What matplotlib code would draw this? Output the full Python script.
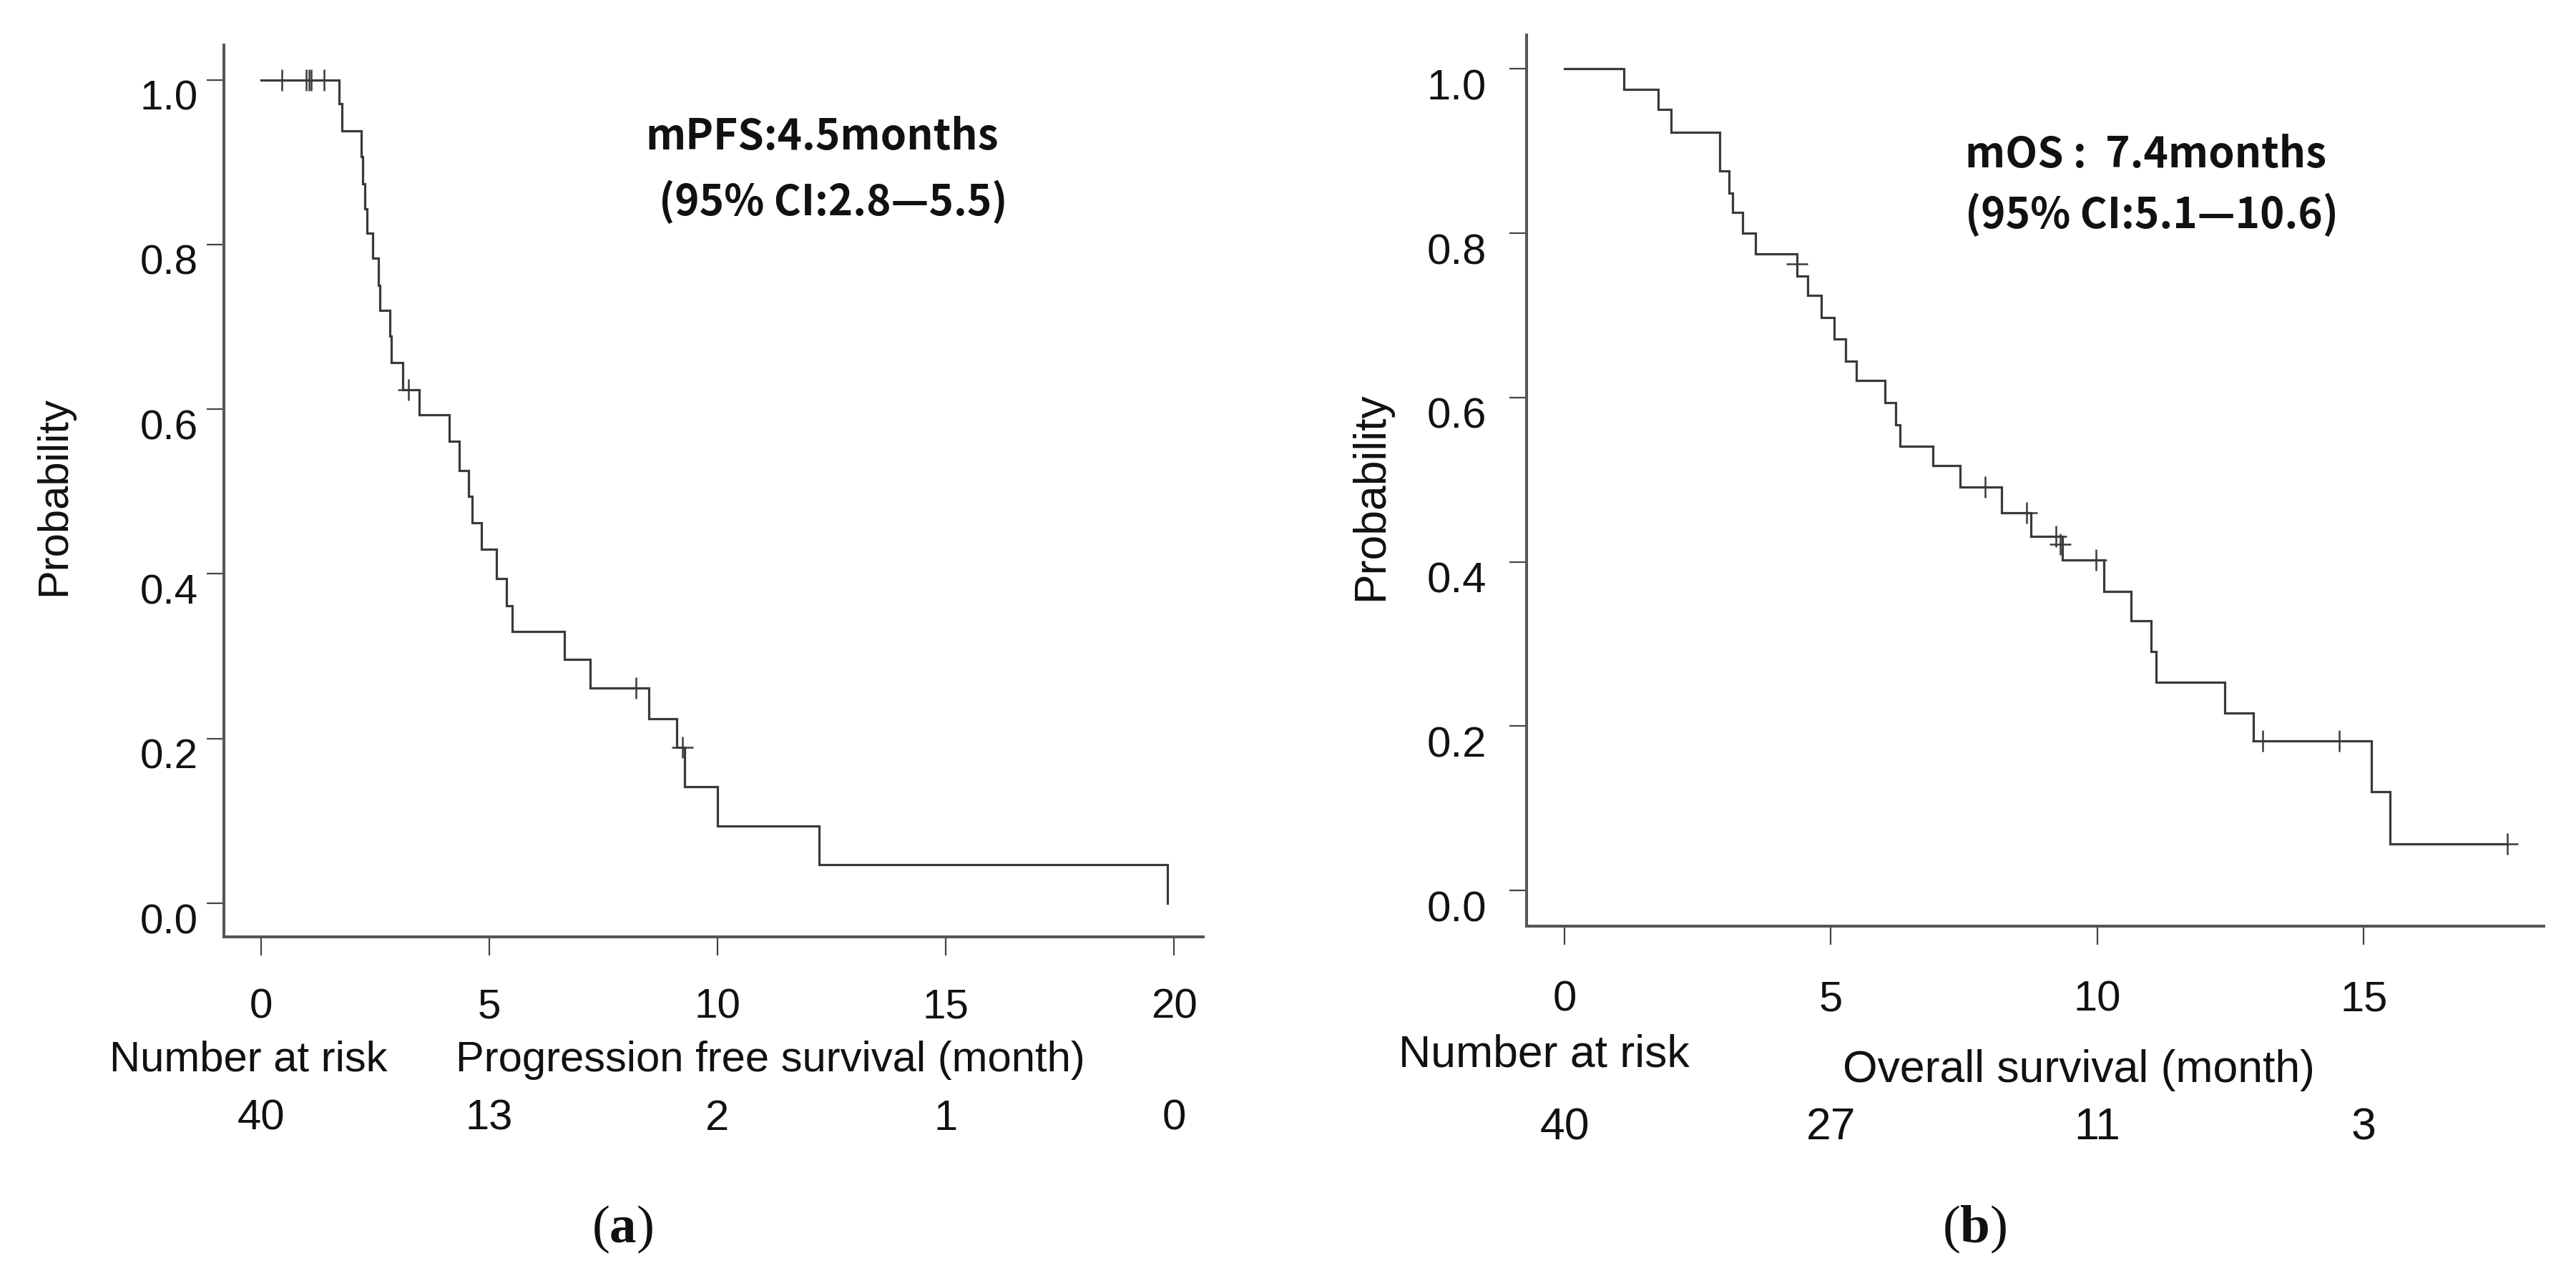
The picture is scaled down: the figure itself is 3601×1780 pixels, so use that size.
import matplotlib
matplotlib.use("Agg")
import matplotlib.pyplot as plt
import numpy as np

# ---------------- data ----------------
pfs_times = [1.71, 1.77, 2.19, 2.23, 2.28, 2.32, 2.45, 2.57, 2.60, 2.82, 2.85, 3.11, 3.46,
             4.12, 4.34, 4.55, 4.62, 4.82, 5.15, 5.38, 5.50, 6.64, 7.21, 8.50, 9.10, 9.28,
             10.00, 12.23, 19.86]
pfs_surv = [0.971, 0.938, 0.907, 0.874, 0.843, 0.814, 0.783, 0.750, 0.720, 0.689, 0.657,
            0.624, 0.593, 0.561, 0.525, 0.494, 0.462, 0.430, 0.394, 0.361, 0.330, 0.296,
            0.261, 0.224, 0.189, 0.142, 0.094, 0.047, 0.0]
pfs_cens_t = [0.46, 0.99, 1.05, 1.10, 1.38, 3.23, 8.21, 9.23]
pfs_cens_s = [1.0, 1.0, 1.0, 1.0, 1.0, 0.624, 0.261, 0.189]
pfs_end = 19.86

os_times = [1.11, 1.76, 2.00, 2.92, 3.09, 3.15, 3.35, 3.59, 4.36, 4.56, 4.82, 5.06, 5.28,
            5.48, 6.01, 6.21, 6.30, 6.91, 7.42, 8.20, 8.76, 9.35, 10.12, 10.63, 11.01,
            11.11, 12.39, 12.93, 15.15, 15.49]
os_surv = [0.975, 0.951, 0.923, 0.876, 0.849, 0.825, 0.800, 0.775, 0.748, 0.724, 0.697,
           0.671, 0.644, 0.621, 0.594, 0.567, 0.541, 0.517, 0.491, 0.460, 0.431, 0.402,
           0.364, 0.328, 0.291, 0.253, 0.216, 0.182, 0.120, 0.057]
os_cens_t = [4.36, 7.90, 8.67, 9.23, 9.31, 9.98, 13.11, 14.54, 17.69]
os_cens_s = [0.763, 0.491, 0.460, 0.431, 0.421, 0.402, 0.182, 0.182, 0.057]
os_end = 17.69

x_ticks_a = [0, 5, 10, 15, 20]
risk_a = ["40", "13", "2", "1", "0"]
x_ticks_b = [0, 5, 10, 15]
risk_b = ["40", "27", "11", "3"]
y_ticks = [0.0, 0.2, 0.4, 0.6, 0.8, 1.0]
y_ticklabels = ["0.0", "0.2", "0.4", "0.6", "0.8", "1.0"]

# ---------------- layout ----------------
plt.rcParams["mathtext.fontset"] = "custom"
plt.rcParams["mathtext.rm"] = "Liberation Serif"
plt.rcParams["mathtext.bf"] = "Liberation Serif:bold"

W, H = 3601, 1780
fig = plt.figure(figsize=(W / 100, H / 100), dpi=100)
fig.patch.set_facecolor("white")

SANS = ["Liberation Sans", "DejaVu Sans"]
CJK = ["Noto Sans CJK JP", "DejaVu Sans"]
SERIF = ["Liberation Serif", "DejaVu Serif"]
TXT = "#111111"
LINE = "#3a3a3a"
AX = "#555555"


def fx(px):
    return px / W


def fy(py):
    return 1 - py / H


def make_axes(l, r, t, b):
    return fig.add_axes([fx(l), fy(b), fx(r) - fx(l), (b - t) / H])


def style(ax, xlim, ylim, xticks, ypad, xpad, fs):
    ax.set_xlim(*xlim)
    ax.set_ylim(*ylim)
    for s in ["top", "right"]:
        ax.spines[s].set_visible(False)
    for s in ["left", "bottom"]:
        ax.spines[s].set_color(AX)
        ax.spines[s].set_linewidth(2.9)
    ax.set_xticks(xticks)
    ax.set_xticklabels([str(v) for v in xticks], family=SANS, fontsize=fs, color=TXT)
    ax.set_yticks(y_ticks)
    ax.set_yticklabels(y_ticklabels, family=SANS, fontsize=fs, color=TXT)
    ax.tick_params(axis="x", direction="out", length=18.7, width=1.6, colors="#444444",
                   pad=xpad, labelcolor=TXT)
    ax.tick_params(axis="y", direction="out", length=17.5, width=1.6, colors="#444444",
                   pad=ypad, labelcolor=TXT)
    for lbl in ax.get_yticklabels():
        lbl.set_verticalalignment("top")


def km(ax, times, surv, end, ct, cs):
    xs = [0.0] + list(times) + [end]
    ys = [1.0] + list(surv) + [surv[-1]]
    ax.step(xs, ys, where="post", color=LINE, lw=2.3, solid_joinstyle="miter")
    ax.plot(ct, cs, ls="none", marker="+", ms=21, mew=1.8, color=LINE)


# ---------------- panel a ----------------
axa = make_axes(313, 1682, 63.3, 1310)
style(axa, (-0.815, 20.64), (-0.0408, 1.0419), x_ticks_a, ypad=8.4, xpad=33, fs=42)
km(axa, pfs_times, pfs_surv, pfs_end, pfs_cens_t, pfs_cens_s)

fig.text(fx(76), fy(694), "Probability", rotation=90, ha="center", va="center",
         family=SANS, fontsize=43, color=TXT)
fig.text(fx(347), fy(1498), "Number at risk", ha="center", va="baseline",
         family=SANS, fontsize=43, color=TXT)
fig.text(fx(1077), fy(1498), "Progression free survival (month)", ha="center",
         va="baseline", family=SANS, fontsize=43, color=TXT)
tr_a = matplotlib.transforms.blended_transform_factory(axa.transData, fig.transFigure)
for xv, r in zip(x_ticks_a, risk_a):
    axa.text(xv, fy(1580), r, transform=tr_a, ha="center", va="baseline",
             family=SANS, fontsize=43, color=TXT)
fig.text(fx(902), fy(209), "mPFS:4.5months", ha="left", va="baseline",
         family=CJK, fontsize=42, fontweight="bold", color=TXT)
fig.text(fx(921), fy(301), "(95% CI:2.8—5.5)", ha="left", va="baseline",
         family=CJK, fontsize=42, fontweight="bold", color=TXT)
fig.text(fx(870), fy(1737), r"($\mathbf{a}$)", ha="center", va="baseline",
         family=SERIF, fontsize=54, color=TXT)

# ---------------- panel b ----------------
axb = make_axes(2134, 3556, 48.8, 1295)
style(axb, (-0.711, 18.38), (-0.0435, 1.0415), x_ticks_b, ypad=23, xpad=36, fs=43)
km(axb, os_times, os_surv, os_end, os_cens_t, os_cens_s)

fig.text(fx(1916), fy(693), "Probability", rotation=90, ha="center", va="center",
         family=SANS, fontsize=45, color=TXT)
fig.text(fx(2158), fy(1492), "Number at risk", ha="center", va="baseline",
         family=SANS, fontsize=45, color=TXT)
fig.text(fx(2906), fy(1513), "Overall survival (month)", ha="center", va="baseline",
         family=SANS, fontsize=45, color=TXT)
tr_b = matplotlib.transforms.blended_transform_factory(axb.transData, fig.transFigure)
for xv, r in zip(x_ticks_b, risk_b):
    axb.text(xv, fy(1593), r, transform=tr_b, ha="center", va="baseline",
             family=SANS, fontsize=45, color=TXT)
fig.text(fx(2747), fy(234), "mOS :  7.4months", ha="left", va="baseline",
         family=CJK, fontsize=42, fontweight="bold", color=TXT)
fig.text(fx(2747), fy(319), "(95% CI:5.1—10.6)", ha="left", va="baseline",
         family=CJK, fontsize=42, fontweight="bold", color=TXT)
fig.text(fx(2760), fy(1737), r"($\mathbf{b}$)", ha="center", va="baseline",
         family=SERIF, fontsize=54, color=TXT)

fig.savefig("out.png", dpi=100, facecolor="white")
